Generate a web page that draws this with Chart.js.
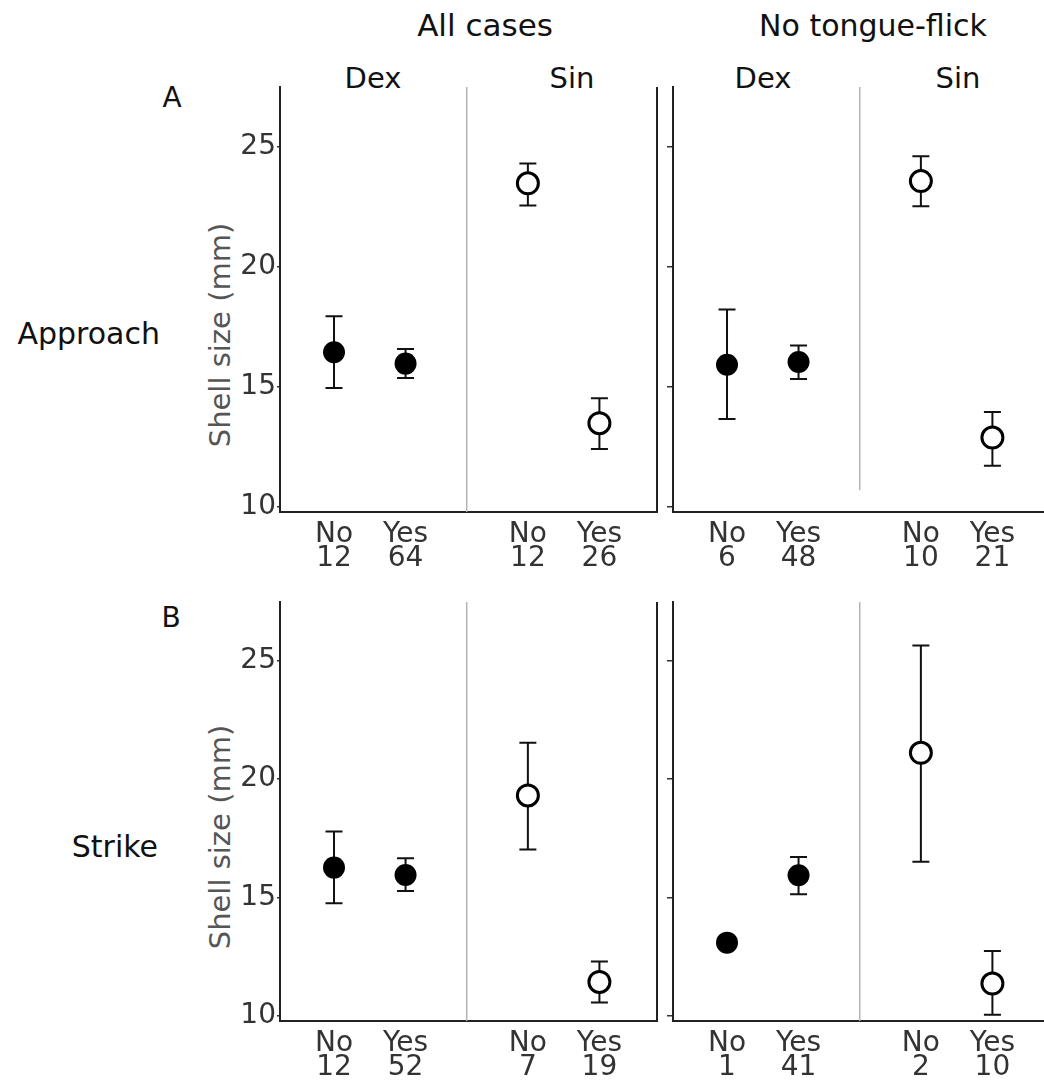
<!DOCTYPE html>
<html>
<head>
<meta charset="utf-8">
<script src="https://cdn.jsdelivr.net/npm/chart.js@4.4.1/dist/chart.umd.min.js"></script>
<style>
  html, body { margin: 0; padding: 0; background: #fff; overflow: hidden; }
  #wrap { position: relative; width: 1044px; height: 1089px; overflow: hidden; font-family: "DejaVu Sans", sans-serif; }
  #wrap canvas { position: absolute; left: 0; top: 0; }
  .lbl { position: absolute; white-space: nowrap; color: #111; line-height: 1; transform: translate(-50%, -50%); }
  .right { transform: translate(-100%, -50%); }
  .ytitle { color: #555; font-size: 29px; transform: translate(-50%, -50%) rotate(-90deg); }
</style>
</head>
<body>
<div id="wrap">
  <div class="lbl" style="left:485px; top:25px; font-size:31px;">All cases</div>
  <div class="lbl" style="left:873px; top:26px; font-size:30px;">No tongue-flick</div>
  <div class="lbl" style="left:373px; top:78px; font-size:29px;">Dex</div>
  <div class="lbl" style="left:572px; top:78px; font-size:29px;">Sin</div>
  <div class="lbl" style="left:763px; top:78px; font-size:29px;">Dex</div>
  <div class="lbl" style="left:958px; top:78px; font-size:29px;">Sin</div>
  <div class="lbl" style="left:172px; top:98px; font-size:28px;">A</div>
  <div class="lbl" style="left:171px; top:618px; font-size:28px;">B</div>
  <div class="lbl right" style="left:160px; top:334px; font-size:30px;">Approach</div>
  <div class="lbl right" style="left:158px; top:847px; font-size:30px;">Strike</div>
  <div class="lbl ytitle" style="left:220px; top:335px;">Shell size (mm)</div>
  <div class="lbl ytitle" style="left:220px; top:837px;">Shell size (mm)</div>
</div>
<script>
// groups in order: Dex No, Dex Yes, Sin No, Sin Yes
const categories = ['No', 'Yes'];
const sides = ['Dex', 'Sin'];
const yTicks = [10, 15, 20, 25];

// Approach, all cases
const approachAllMean = [16.43, 15.96, 23.47, 13.48];
const approachAllLow = [14.94, 15.36, 22.55, 12.40];
const approachAllHigh = [17.93, 16.57, 24.29, 14.52];
const approachAllN = [12, 64, 12, 26];

// Approach, no tongue-flick
const approachNoFlickMean = [15.91, 16.03, 23.56, 12.88];
const approachNoFlickLow = [13.65, 15.32, 22.51, 11.71];
const approachNoFlickHigh = [18.21, 16.71, 24.60, 13.94];
const approachNoFlickN = [6, 48, 10, 21];

// Strike, all cases
const strikeAllMean = [16.26, 15.95, 19.31, 11.43];
const strikeAllLow = [14.75, 15.27, 17.02, 10.56];
const strikeAllHigh = [17.78, 16.65, 21.53, 12.29];
const strikeAllN = [12, 52, 7, 19];

// Strike, no tongue-flick (single Dex "No" case has no interval)
const strikeNoFlickMean = [13.09, 15.94, 21.11, 11.36];
const strikeNoFlickLow = [null, 15.13, 16.51, 10.04];
const strikeNoFlickHigh = [null, 16.71, 25.64, 12.74];
const strikeNoFlickN = [1, 41, 2, 10];

const SIDE_GAP = 2.71;
const X_MIN = -0.755, X_MAX = 4.515;
const Y_MIN = 9.78, Y_MAX = 27.48;
const CANVAS_W = 1060, CANVAS_H = 1089;
const X_AXIS_H = 70;

function xOf(i) { return Math.floor(i / 2) * SIDE_GAP + (i % 2); }

const errorBars = {
    id: 'errorBars',
    beforeDatasetsDraw(chart, args, opts) {
        const { ctx, chartArea, scales: { x, y } } = chart;
        ctx.save();
        // divider between Dex and Sin
        const dx = x.getPixelForValue((xOf(1) + xOf(2)) / 2);
        const dEnd = opts.dividerEnd ? y.getPixelForValue(opts.dividerEnd) : chartArea.bottom;
        ctx.strokeStyle = '#b4b4b4';
        ctx.lineWidth = 1.5;
        ctx.beginPath();
        ctx.moveTo(dx, chartArea.top);
        ctx.lineTo(dx, dEnd);
        ctx.stroke();
        if (opts.rightBorder) {
            ctx.strokeStyle = '#222';
            ctx.lineWidth = 2;
            ctx.beginPath();
            ctx.moveTo(chartArea.right, chartArea.top);
            ctx.lineTo(chartArea.right, chartArea.bottom);
            ctx.stroke();
        }
        // whiskers
        ctx.strokeStyle = '#111';
        ctx.lineWidth = 2;
        chart.data.datasets.forEach(function(ds) {
            ds.data.forEach(function(p) {
                if (p.yMin == null) return;
                const px = x.getPixelForValue(p.x);
                const top = y.getPixelForValue(p.yMax);
                const bot = y.getPixelForValue(p.yMin);
                ctx.beginPath();
                ctx.moveTo(px, top); ctx.lineTo(px, bot);
                ctx.moveTo(px - 8.5, top); ctx.lineTo(px + 8.5, top);
                ctx.moveTo(px - 8.5, bot); ctx.lineTo(px + 8.5, bot);
                ctx.stroke();
            });
        });
        ctx.restore();
    }
};

const panels = [
    { mean: approachAllMean, low: approachAllLow, high: approachAllHigh, n: approachAllN, left: true, area: { l: 280, r: 657, t: 87, b: 512 } },
    { mean: approachNoFlickMean, low: approachNoFlickLow, high: approachNoFlickHigh, n: approachNoFlickN, left: false, area: { l: 673, r: 1050, t: 87, b: 512 }, dividerEnd: 10.7 },
    { mean: strikeAllMean, low: strikeAllLow, high: strikeAllHigh, n: strikeAllN, left: true, area: { l: 280, r: 657, t: 602, b: 1021 } },
    { mean: strikeNoFlickMean, low: strikeNoFlickLow, high: strikeNoFlickHigh, n: strikeNoFlickN, left: false, area: { l: 673, r: 1050, t: 602, b: 1021 } }
];

const wrap = document.getElementById('wrap');

panels.forEach(function(p) {
    const canvas = document.createElement('canvas');
    canvas.width = CANVAS_W;
    canvas.height = CANVAS_H;
    wrap.appendChild(canvas);

    const yW = p.left ? 100 : 10;
    const datasets = sides.map(function(side, s) {
        const pts = categories.map(function(cat, c) {
            const i = s * 2 + c;
            return { x: xOf(i), y: p.mean[i], yMin: p.low[i], yMax: p.high[i] };
        });
        return {
            label: side,
            data: pts,
            pointRadius: s === 0 ? 11 : 10.5,
            pointHoverRadius: s === 0 ? 11 : 10.5,
            pointBackgroundColor: s === 0 ? '#000' : '#fff',
            pointBorderColor: '#000',
            pointBorderWidth: s === 0 ? 0 : 3,
            showLine: false
        };
    });

    new Chart(canvas.getContext('2d'), {
        type: 'scatter',
        data: { datasets: datasets },
        plugins: [errorBars],
        options: {
            responsive: false,
            animation: false,
            events: [],
            layout: {
                autoPadding: false,
                padding: {
                    left: p.area.l - yW,
                    right: CANVAS_W - p.area.r,
                    top: p.area.t,
                    bottom: CANVAS_H - p.area.b - X_AXIS_H
                }
            },
            plugins: {
                legend: { display: false },
                tooltip: { enabled: false },
                errorBars: { rightBorder: p.left, dividerEnd: p.dividerEnd }
            },
            scales: {
                x: {
                    type: 'linear',
                    min: X_MIN,
                    max: X_MAX,
                    afterBuildTicks: function(scale) {
                        scale.ticks = [0, 1, 2, 3].map(function(i) { return { value: xOf(i) }; });
                    },
                    afterFit: function(scale) { scale.height = X_AXIS_H; },
                    grid: { display: false },
                    border: { display: true, color: '#222', width: 2 },
                    ticks: {
                        autoSkip: false,
                        maxRotation: 0,
                        minRotation: 0,
                        padding: 3,
                        color: '#333',
                        font: { family: 'DejaVu Sans', size: 28, lineHeight: 0.86 },
                        callback: function(value) {
                            const i = [0, 1, 2, 3].findIndex(function(k) { return Math.abs(xOf(k) - value) < 1e-6; });
                            return i < 0 ? '' : [categories[i % 2], String(p.n[i])];
                        }
                    }
                },
                y: {
                    type: 'linear',
                    min: Y_MIN,
                    max: Y_MAX,
                    afterBuildTicks: function(scale) {
                        scale.ticks = yTicks.map(function(v) { return { value: v }; });
                    },
                    afterFit: function(scale) { scale.width = yW; },
                    grid: {
                        display: true,
                        drawOnChartArea: false,
                        drawTicks: true,
                        tickLength: p.left ? 3 : 6,
                        color: '#333',
                        lineWidth: 1.5
                    },
                    border: { display: true, color: '#222', width: 2 },
                    ticks: {
                        padding: 1,
                        color: '#333',
                        font: { family: 'DejaVu Sans', size: 28 },
                        callback: function(v) { return p.left ? String(v) : ''; }
                    }
                }
            }
        }
    });
});
</script>
</body>
</html>
